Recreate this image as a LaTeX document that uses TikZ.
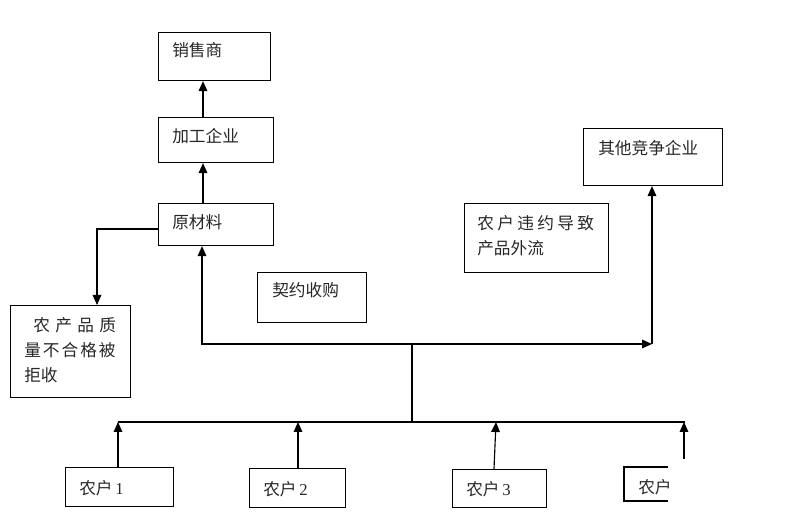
\documentclass[tikz,border=0pt]{standalone}
\usepackage{fontspec}
\setmainfont{Liberation Serif}
\newfontfamily\cjk{Noto Sans CJK SC}
\usetikzlibrary{arrows.meta}
\begin{document}
\begin{tikzpicture}[x=0.75pt,y=-0.75pt,
  box/.style={draw, line width=0.85pt, inner sep=0pt, anchor=north west},
  txt/.style={inner sep=0pt, anchor=west, font=\fontsize{12.5}{15}\selectfont\cjk, text=black!85},
  ln/.style={line width=0.85pt},
  arr/.style={line width=0.85pt, -{Triangle[length=7.5pt,width=6.5pt]}}]
\useasboundingbox (0,0) rectangle (808,523);
% boxes
\node[box, minimum width=84pt, minimum height=36pt] (xs) at (158,32) {};
\node[box, minimum width=86.25pt, minimum height=33.75pt] (jg) at (158,117) {};
\node[box, minimum width=86.25pt, minimum height=31.5pt] (ycl) at (158,203) {};
\node[box, minimum width=90pt, minimum height=69pt] (jj) at (10,305) {};
\node[box, minimum width=81.75pt, minimum height=37.5pt] (qy) at (257,272) {};
\node[box, minimum width=104.25pt, minimum height=42.75pt] (qt) at (583,128) {};
\node[box, minimum width=108pt, minimum height=51.75pt] (wy) at (464,203) {};
\node[box, minimum width=81pt, minimum height=29.25pt] (n1) at (65,467) {};
\node[box, minimum width=72pt, minimum height=29.25pt] (n2) at (249,468) {};
\node[box, minimum width=70.5pt, minimum height=28.5pt] (n3) at (452,469) {};
\draw[ln] (668,467) -- (624,467) -- (624,501) -- (668,501);
% texts
\node[txt] (t1) at (172,50) {销售商};
\node[txt] (t2) at (172,136) {加工企业};
\node[txt] (t3) at (172,222) {原材料};
\node[txt] (t4a) at (33,325) {农\hspace{4pt}产\hspace{4pt}品\hspace{4pt}质};
\node[txt] (t4b) at (24,350) {量\hspace{1.5pt}不\hspace{1.5pt}合\hspace{1.5pt}格\hspace{1.5pt}被};
\node[txt] (t4c) at (24,375) {拒收};
\node[txt] (t5) at (272,290) {契约收购};
\node[txt] (t6) at (598,148) {其他竞争企业};
\node[txt] (t7a) at (477,223) {农\hspace{2.5pt}户\hspace{2.5pt}违\hspace{2.5pt}约\hspace{2.5pt}导\hspace{2.5pt}致};
\node[txt] (t7b) at (477,248) {产品外流};
\node[txt] (t8) at (79,488) {农户\,{\rmfamily 1}};
\node[txt] (t9) at (263,489) {农户\,{\rmfamily 2}};
\node[txt] (t10) at (466,489) {农户\,{\rmfamily 3}};
\begin{scope}
\clip (620,460) rectangle (668,510);
\node[txt] (t11) at (638,487) {农户};
\end{scope}
% coordinates
\coordinate (ax) at (203,0);
\coordinate (rj) at (97,229);
\coordinate (hub) at (412,344);
\coordinate (cl) at (202,344);
\coordinate (cr) at (652,344);
\coordinate (hb) at (412,422);
\coordinate (bl) at (118,422);
\coordinate (br) at (685,422);
\coordinate (a2) at (298,422);
\coordinate (a3t) at (496,422);
\coordinate (a3b) at (494,469);
\coordinate (a4t) at (684,422);
\coordinate (a4b) at (684,459);
% connectors
\draw[arr] (jg.north -| ax) -- (xs.south -| ax);
\draw[arr] (ycl.north -| ax) -- (jg.south -| ax);
\draw[arr] (ycl.west |- rj) -- (rj) -- (jj.north -| rj);
\draw[arr] (hub) -- (cl) -- (ycl.south -| cl);
\draw[arr] (hub) -- (cr);
\draw[arr] (cr) -- (qt.south -| cr);
\draw[ln] (hub) -- (hb);
\draw[ln] (bl) -- (br);
\draw[arr] (n1.north -| bl) -- (bl);
\draw[arr] (n2.north -| a2) -- (a2);
\draw[arr] (a3b) -- (a3t);
\draw[arr] (a4b) -- (a4t);
\end{tikzpicture}
\end{document}
